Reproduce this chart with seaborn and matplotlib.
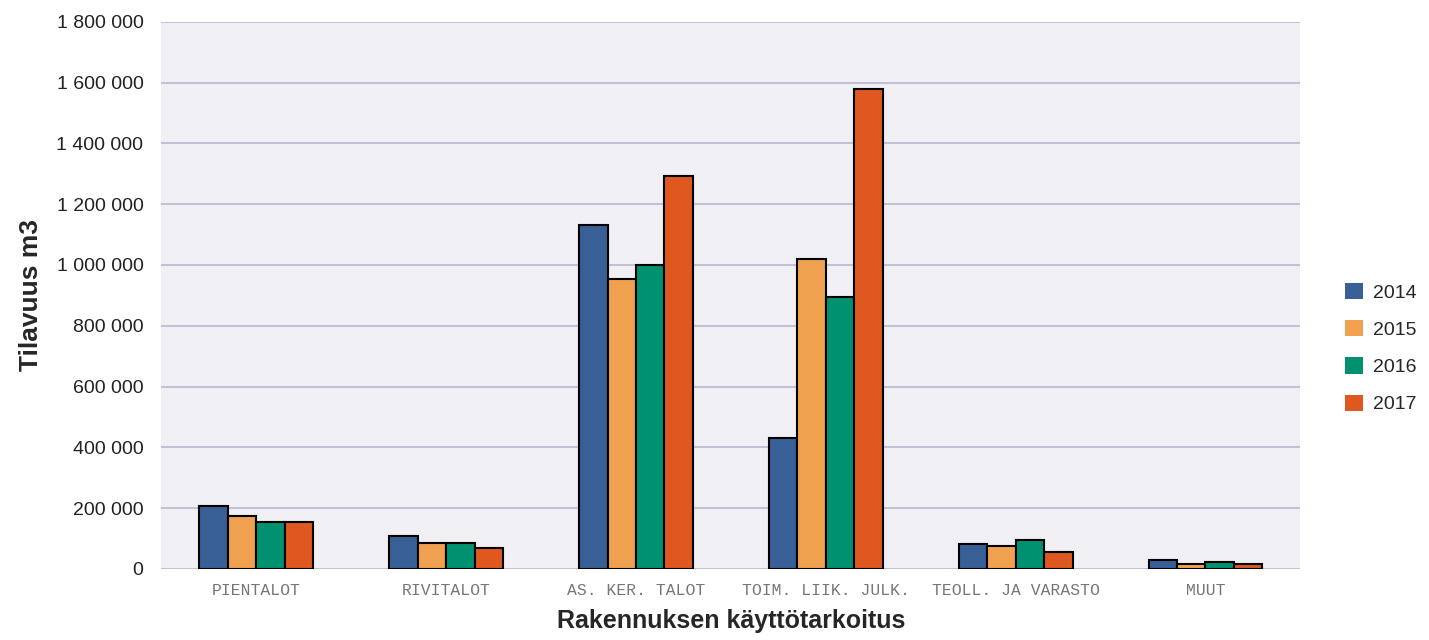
import matplotlib
matplotlib.use("Agg")
import matplotlib.pyplot as plt
import matplotlib.ticker as mticker
import pandas as pd
import seaborn as sns

categories = ["PIENTALOT", "RIVITALOT", "AS. KER. TALOT", "TOIM. LIIK. JULK.",
              "TEOLL. JA VARASTO", "MUUT"]
years = ["2014", "2015", "2016", "2017"]
v2014 = [207000, 108000, 1132000, 432000, 82000, 30000]
v2015 = [173000, 87000, 953000, 1019000, 75000, 15000]
v2016 = [154000, 87000, 1000000, 894000, 94000, 23000]
v2017 = [154000, 68000, 1291000, 1580000, 55000, 16000]
colors = ["#386096", "#f0a150", "#009270", "#de581f"]

rows = []
for yr, vals in zip(years, [v2014, v2015, v2016, v2017]):
    for cat, v in zip(categories, vals):
        rows.append({"cat": cat, "year": yr, "value": v})
df = pd.DataFrame(rows)

sns.set_style("white", {"axes.facecolor": "#efeff4"})
plt.rcParams["font.family"] = ["Liberation Sans", "DejaVu Sans"]

fig = plt.figure(figsize=(14.29, 6.4), dpi=100)
ax = fig.add_axes([0.113, 0.111, 0.797, 0.855])

sns.barplot(data=df, x="cat", y="value", hue="year", order=categories,
            hue_order=years, palette=colors, saturation=1, width=0.6,
            edgecolor="black", linewidth=1.5, ax=ax, zorder=3)

ax.set_ylim(0, 1800000)
ax.set_xlim(-0.5, 5.5)
ax.yaxis.set_major_locator(mticker.MultipleLocator(200000))
ax.yaxis.set_major_formatter(mticker.FuncFormatter(lambda v, p: f"{int(v):,}".replace(",", " ")))
ax.grid(axis="y", color="#b8b8d0", linewidth=1.2, zorder=0)
ax.set_axisbelow(True)
for s in ax.spines.values():
    s.set_visible(False)

ax.tick_params(axis="y", length=9, color="#b8b8d0", labelsize=14, pad=4, labelcolor="#222222")
ax.tick_params(axis="x", length=0, pad=10)
for lab in ax.get_xticklabels():
    lab.set_fontfamily("Liberation Mono")
    lab.set_fontsize(11.8)
    lab.set_color("#777777")

ax.set_ylabel("Tilavuus m3", fontsize=19, fontweight="bold", labelpad=10)
ax.set_xlabel("Rakennuksen käyttötarkoitus", fontsize=18, fontweight="bold", labelpad=8)

ax.legend(loc="center left", bbox_to_anchor=(0.929, 0.456),
          bbox_transform=fig.transFigure, frameon=False,
          fontsize=14, handlelength=0.9, handleheight=0.9, labelspacing=0.95,
          handletextpad=0.55)
for h in ax.get_legend().legend_handles:
    h.set_edgecolor("none")

fig.savefig("out.png", dpi=100)
